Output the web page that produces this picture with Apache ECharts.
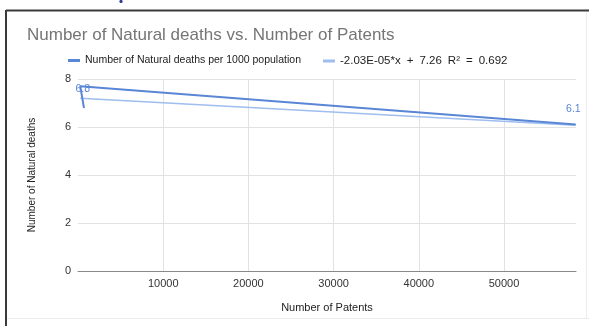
<!DOCTYPE html>
<html>
<head>
<meta charset="utf-8">
<script src="https://cdn.jsdelivr.net/npm/echarts@6/dist/echarts.min.js"></script>
<style>
  html, body { margin: 0; padding: 0; background: #fff; }
  #chart { width: 589px; height: 326px; }
</style>
</head>
<body>
<div id="chart"></div>
<script>
// ---- data ----
const patents = [700, 264, 58400];          // x values (Number of Patents)
const deaths = [6.8, 7.7, 6.1];             // y values (Natural deaths per 1000)
const trendX = [264, 58400];                // trendline endpoints (x)
const trendY = [7.2, 6.07];                 // trendline endpoints (y)
const yTicks = [0, 2, 4, 6, 8];
const xTicks = [10000, 20000, 30000, 40000, 50000];
const labeledIdx = [0, 2];                  // points carrying value labels

const seriesName = 'Number of Natural deaths per 1000 population';
const trendName = '-2.03E-05*x + 7.26 R\u00b2 = 0.692';
const titleText = 'Number of Natural deaths vs. Number of Patents';

const mainColor = '#5a86d6';
const trendColor = '#9fbdee';
const FONT = '"Liberation Sans", Arial, sans-serif';

const labelPos = { 0: [-8, -24], 2: [-9, -20] };
const mainData = patents.map((x, i) => {
  const item = { value: [x, deaths[i]] };
  if (labeledIdx.includes(i)) {
    item.label = {
      show: true, position: labelPos[i],
      formatter: String(deaths[i]), color: mainColor, fontSize: 10.5, fontFamily: FONT
    };
  }
  return item;
});
const trendData = trendX.map((x, i) => [x, trendY[i]]);

const legendText = { color: '#222', fontSize: 10.5, fontFamily: FONT };

const chart = echarts.init(document.getElementById('chart'), null, { renderer: 'canvas' });
chart.setOption({
  animation: false,
  backgroundColor: '#fff',
  title: {
    text: titleText, left: 22, top: 22,
    textStyle: { color: '#757575', fontSize: 17, fontWeight: 'normal', fontFamily: FONT }
  },
  legend: [
    {
      left: 63, top: 50, itemWidth: 12, itemHeight: 3, itemGap: 0,
      textStyle: legendText,
      data: [{ name: seriesName, icon: 'rect', itemStyle: { color: mainColor, opacity: 1 } }]
    },
    {
      left: 318, top: 50, itemWidth: 12, itemHeight: 3, itemGap: 0,
      textStyle: Object.assign({}, legendText, {
        fontSize: 11.5,
        rich: {
          t: { color: '#222', fontSize: 11.5, fontFamily: FONT },
          g: { width: 6, fontSize: 11.5, fontFamily: FONT }
        }
      }),
      formatter: name => name.split(' ').map(s => '{t|' + s + '}').join('{g| }'),
      data: [{ name: trendName, icon: 'rect', itemStyle: { color: trendColor, opacity: 1 } }]
    }
  ],
  grid: { left: 78, right: 13, top: 79, bottom: 55, containLabel: false },
  xAxis: {
    type: 'value', min: 0, max: 58450, interval: 10000,
    name: 'Number of Patents', nameLocation: 'middle', nameGap: 31,
    nameTextStyle: { color: '#222', fontSize: 11, fontFamily: FONT },
    axisLine: { show: true, onZero: false, lineStyle: { color: '#888', width: 1 } },
    axisTick: { show: false },
    axisLabel: {
      color: '#333', fontSize: 11, fontFamily: FONT, margin: 7,
      showMinLabel: false, showMaxLabel: false,
      formatter: v => xTicks.includes(v) ? String(v) : ''
    },
    splitLine: { show: true, showMinLine: false, showMaxLine: false, lineStyle: { color: '#e2e2e2' } }
  },
  yAxis: {
    type: 'value', min: 0, max: 8, interval: 2,
    name: 'Number of Natural deaths', nameLocation: 'middle', nameGap: 41, nameRotate: 90,
    nameTextStyle: { color: '#222', fontSize: 10, fontFamily: FONT },
    axisLine: { show: false },
    axisTick: { show: false },
    axisLabel: {
      color: '#333', fontSize: 11, fontFamily: FONT, margin: 7,
      formatter: v => yTicks.includes(v) ? String(v) : ''
    },
    splitLine: { show: true, lineStyle: { color: '#e2e2e2' } }
  },
  series: [
    {
      name: seriesName, type: 'line', data: mainData,
      showSymbol: true, symbol: 'circle', symbolSize: 1,
      lineStyle: { color: mainColor, width: 2 },
      itemStyle: { color: mainColor },
      emphasis: { disabled: true },
      labelLayout: { hideOverlap: false },
      z: 3
    },
    {
      name: trendName, type: 'line', data: trendData,
      showSymbol: false, symbol: 'none',
      lineStyle: { color: trendColor, width: 1.5 },
      itemStyle: { color: trendColor },
      z: 2
    }
  ],
  graphic: [
    { type: 'line', shape: { x1: 6, y1: 10.5, x2: 589, y2: 10.5 }, style: { stroke: '#3a3a3a', lineWidth: 2 } },
    { type: 'line', shape: { x1: 6, y1: 10, x2: 6, y2: 326 }, style: { stroke: '#3a3a3a', lineWidth: 2 } },
    { type: 'line', shape: { x1: 586.5, y1: 12, x2: 586.5, y2: 318 }, style: { stroke: '#ececec', lineWidth: 1 } },
    { type: 'line', shape: { x1: 7, y1: 318.5, x2: 589, y2: 318.5 }, style: { stroke: '#ececec', lineWidth: 1 } },
    { type: 'circle', shape: { cx: 121, cy: 1.5, r: 1.6 }, style: { fill: '#2b3a8a' } }
  ]
});
</script>
</body>
</html>
